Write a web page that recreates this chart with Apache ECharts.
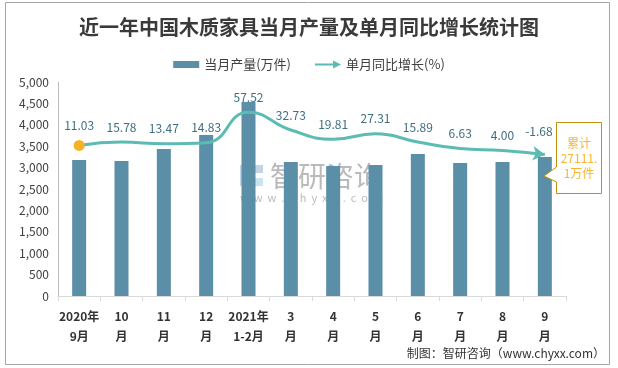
<!DOCTYPE html>
<html>
<head>
<meta charset="utf-8">
<script src="https://cdn.jsdelivr.net/npm/echarts@6/dist/echarts.min.js"></script>
<style>html,body{margin:0;padding:0;background:#fff;}#c{width:618px;height:368px;}</style>
</head>
<body>
<div id="c"></div>
<script>
const categories = ['2020年\n9月','10\n月','11\n月','12\n月','2021年\n1-2月','3\n月','4\n月','5\n月','6\n月','7\n月','8\n月','9\n月'];
const production = [3178, 3154, 3435, 3762, 4533, 3131, 3037, 3060, 3318, 3107, 3131, 3248];
const growth = [11.03, 15.78, 13.47, 14.83, 57.52, 32.73, 19.81, 27.31, 15.89, 6.63, 4.00, -1.68];
const yTicks = {min: 0, max: 5000, interval: 500};
const seriesNames = ['当月产量(万件)', '单月同比增长(%)'];
const titleText = '近一年中国木质家具当月产量及单月同比增长统计图';
const noteLines = ['累计', '27111.', '1万件'];
const sourceText = '制图：智研咨询（www.chyxx.com）';

const FONT = '"Noto Sans CJK SC", "Noto Sans", sans-serif';
const chart = echarts.init(document.getElementById('c'), null, {renderer: 'canvas'});

const lineData = growth.map((v, i) => {
  if (i === 0) return {value: v, symbol: 'circle', symbolSize: 11, itemStyle: {color: '#f5b323'}};
  if (i === growth.length - 1) return {value: v, symbol: 'arrow', symbolSize: [11, 12], symbolRotate: -96, itemStyle: {color: '#5cbcb3'}};
  return {value: v, symbolSize: 0};
});

chart.setOption({
  backgroundColor: '#fff',
  animation: false,
  title: {
    text: titleText, left: 'center', top: 12,
    textStyle: {fontFamily: FONT, fontSize: 20, fontWeight: 'bold', color: '#3a3a3a'}
  },
  legend: {
    top: 53, left: 'center', itemWidth: 26, itemHeight: 10, itemGap: 24,
    symbolKeepAspect: true,
    textStyle: {fontFamily: FONT, fontSize: 13, color: '#404040'},
    data: [
      {name: seriesNames[0], icon: 'path://M0,0 L26,0 L26,7 L0,7 Z'},
      {name: seriesNames[1], icon: 'path://M0,3 L18,3 L18,0 L26,4 L18,8 L18,5 L0,5 Z'}
    ]
  },
  grid: {left: 58, right: 52, top: 82, bottom: 72},
  xAxis: {
    type: 'category', data: categories,
    axisLine: {show: true, lineStyle: {color: '#d9d9d9'}},
    axisTick: {show: true, length: 5, lineStyle: {color: '#d9d9d9'}},
    axisLabel: {fontFamily: FONT, fontSize: 12, fontWeight: 'bold', color: '#333', lineHeight: 20, margin: 10, interval: 0}
  },
  yAxis: [
    {
      type: 'value', min: yTicks.min, max: yTicks.max, interval: yTicks.interval,
      axisLine: {show: true, lineStyle: {color: '#bfbfbf'}},
      axisTick: {show: false},
      splitLine: {show: false},
      axisLabel: {fontFamily: FONT, fontSize: 12, color: '#404040', margin: 9,
        formatter: v => v.toLocaleString('en-US')}
    },
    {
      type: 'value', min: -200, max: 100, show: false, splitLine: {show: false}
    }
  ],
  series: [
    {
      name: seriesNames[0], type: 'bar', data: production, barWidth: 14,
      itemStyle: {color: '#5b8fa7'}, z: 2
    },
    {
      name: seriesNames[1], type: 'line', yAxisIndex: 1, data: lineData,
      smooth: 0.5, symbol: 'circle', symbolSize: 0,
      lineStyle: {color: '#5cbcb3', width: 3},
      itemStyle: {color: '#5cbcb3'},
      label: {show: true, position: 'top', distance: 9, fontFamily: FONT, fontSize: 12, color: '#3f6f80',
        formatter: p => p.value.toFixed(2)},
      z: 3
    }
  ],
  graphic: [
    {type: 'rect', shape: {x: 5.5, y: 2.5, width: 604, height: 362}, style: {fill: 'none', stroke: '#a6a6a6', lineWidth: 1}, silent: true, z: 0},
    {type: 'group', left: 240, top: 162, silent: true, z: 10, children: [
      {type: 'rect', shape: {x: 0, y: 3, width: 8, height: 21}, style: {fill: 'rgba(120,160,200,0.45)'}},
      {type: 'rect', shape: {x: 10, y: 3, width: 13, height: 8}, style: {fill: 'rgba(120,160,200,0.45)'}},
      {type: 'rect', shape: {x: 10, y: 16, width: 13, height: 8}, style: {fill: 'rgba(150,200,230,0.5)'}},
      {type: 'text', x: 30, y: 0, style: {text: '智研咨询', font: '28px ' + FONT, fill: 'rgba(140,140,140,0.6)'}},
      {type: 'text', x: 0, y: 30, style: {text: 'w  w  w  .  c  h  y  x  x  .  c  o  m', font: '11px ' + FONT, fill: 'rgba(140,140,140,0.6)'}}
    ]},
    {type: 'polygon', shape: {points: [[556.5,122.5],[601.5,122.5],[601.5,193.5],[556.5,193.5],[556.5,182],[544,176],[556.5,167]]},
      style: {fill: '#fff', stroke: '#c0900a', lineWidth: 1}, z: 20},
    {type: 'text', x: 579, y: 143, z: 21, style: {text: noteLines[0], font: '12px ' + FONT, fill: '#f5b731', textAlign: 'center', textVerticalAlign: 'middle'}},
    {type: 'text', x: 579, y: 158, z: 21, style: {text: noteLines[1], font: '12px ' + FONT, fill: '#f5b731', textAlign: 'center', textVerticalAlign: 'middle'}},
    {type: 'text', x: 579, y: 173, z: 21, style: {text: noteLines[2], font: '12px ' + FONT, fill: '#f5b731', textAlign: 'center', textVerticalAlign: 'middle'}},
    {type: 'text', x: 605, y: 353, z: 21, style: {text: sourceText, font: '12px ' + FONT, fill: '#333', textAlign: 'right', textVerticalAlign: 'middle'}}
  ]
});
</script>
</body>
</html>
